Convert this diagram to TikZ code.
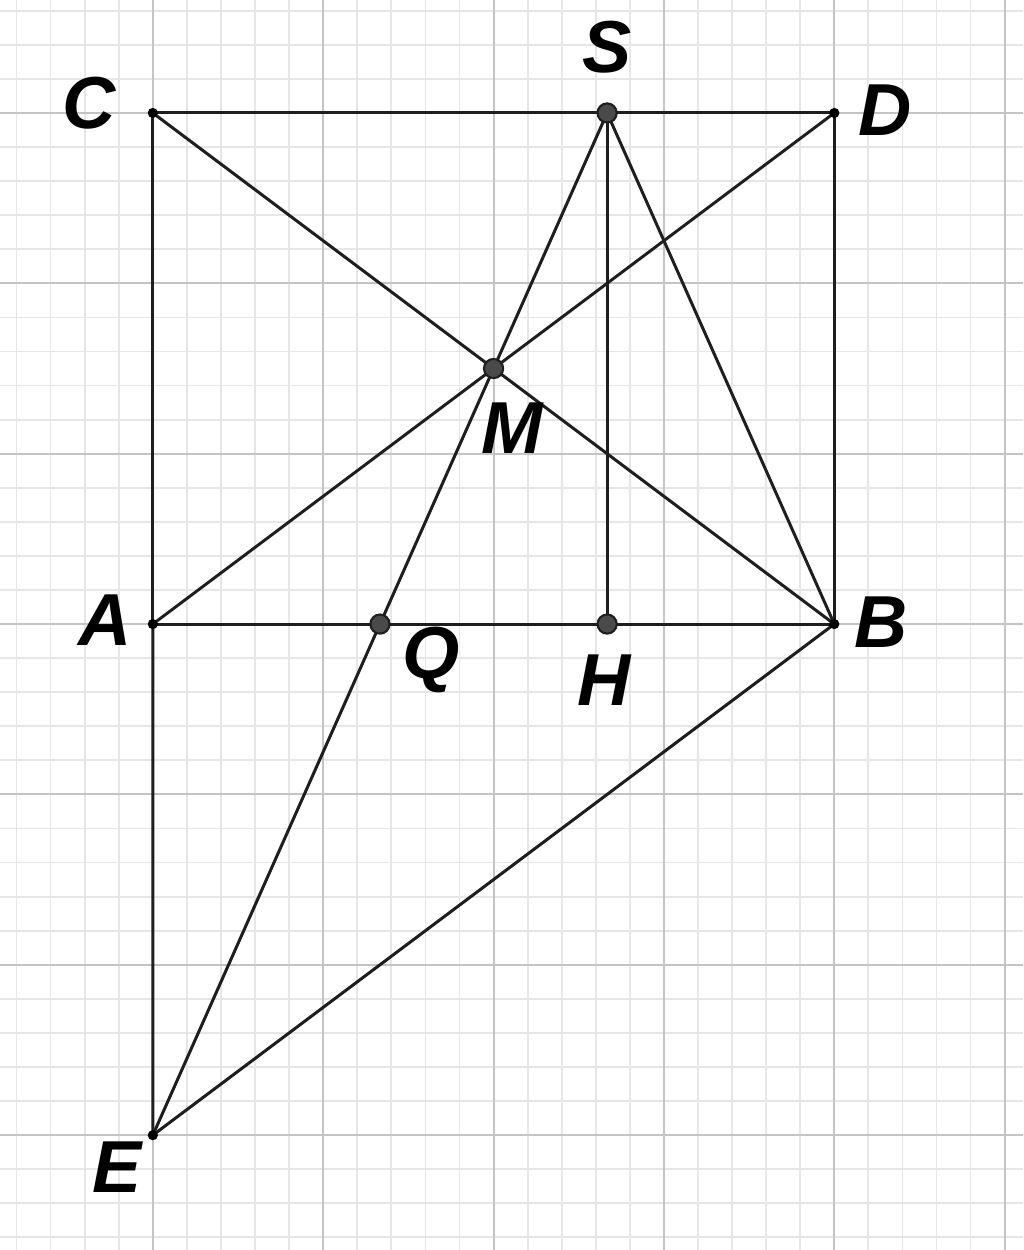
\documentclass[tikz,border=0pt]{standalone}
\usepackage{fontspec}
\setmainfont{Liberation Sans}
\definecolor{minorgrid}{HTML}{E6E6E6}
\definecolor{majorgrid}{HTML}{C4C4C4}
\definecolor{seg}{HTML}{1E1E1E}
\definecolor{ptfill}{HTML}{4A4A4A}
\begin{document}
\begin{tikzpicture}[
  line join=round,
  seg/.style={draw=seg, line width=0.5pt},
  bigpt/.style={circle, fill=ptfill, draw=seg, line width=0.35pt, inner sep=0pt, minimum size=3.2pt},
  smallpt/.style={circle, fill=black, inner sep=0pt, minimum size=1.7pt},
  lab/.style={font=\fontsize{12.3}{14}\selectfont\bfseries\itshape, inner sep=0pt}
]
\useasboundingbox (-0.897,-3.674) rectangle (5.109,3.663);
\clip (-0.897,-3.674) rectangle (5.109,3.663);
% grid
\draw[minorgrid, line width=0.3pt] (-1,-3.8) grid[step=0.2] (5.2,3.8);
\draw[majorgrid, line width=0.35pt] (-1,-3.8) grid[step=1] (5.2,3.8);
% points
\coordinate (A) at (0,0);
\coordinate (B) at (4,0);
\coordinate (C) at (0,3);
\coordinate (D) at (4,3);
\coordinate (E) at (0,-3);
\coordinate (S) at (8/3,3);
\coordinate (H) at (8/3,0);
\coordinate (M) at (2,1.5);
\coordinate (Q) at (4/3,0);
% segments
\draw[seg] (C) -- (D) -- (B) -- (A) -- cycle;
\draw[seg] (A) -- (E) -- (B);
\draw[seg] (C) -- (B);
\draw[seg] (A) -- (D);
\draw[seg] (S) -- (E);
\draw[seg] (S) -- (B);
\draw[seg] (S) -- (H);
% point markers
\node[smallpt] at (A) {};
\node[smallpt] at (B) {};
\node[smallpt] at (C) {};
\node[smallpt] at (D) {};
\node[smallpt] at (E) {};
\node[bigpt] (Sp) at (S) {};
\node[bigpt] (Hp) at (H) {};
\node[bigpt] (Mp) at (M) {};
\node[bigpt] (Qp) at (Q) {};
% labels
\node[lab] (lC) at (-0.372,3.056) {C};
\node[lab] (lS) at (2.669,3.384) {S};
\node[lab] (lD) at (4.299,3.015) {D};
\node[lab] (lM) at (2.111,1.150) {M};
\node[lab] (lA) at (-0.282,0.023) {A};
\node[lab] (lB) at (4.276,0.012) {B};
\node[lab] (lQ) at (1.636,-0.211) {Q};
\node[lab] (lH) at (2.65,-0.328) {H};
\node[lab] (lE) at (-0.211,-3.185) {E};
\end{tikzpicture}
\end{document}
